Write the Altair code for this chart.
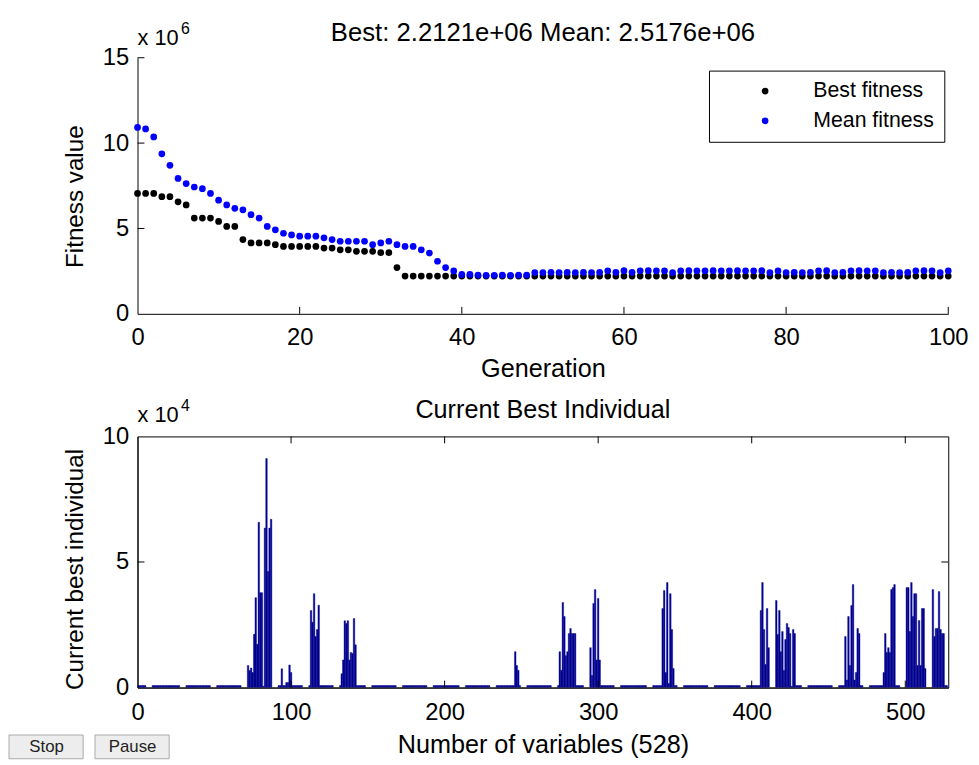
import altair as alt
import pandas as pd

FONT = "Liberation Sans"

# ---------------- top panel: fitness per generation (units of 1e6) ----------------
generations = list(range(0, 101))
best_fitness = [
    7.05, 7.05, 7.05, 6.86, 6.86, 6.56, 6.38, 5.61, 5.61, 5.61,
    5.41, 5.12, 5.12, 4.35, 4.15, 4.15, 4.15, 4.05, 3.95, 3.95,
    3.95, 3.95, 3.95, 3.85, 3.85, 3.75, 3.75, 3.66, 3.66, 3.66,
    3.58, 3.58, 2.71, 2.2121, 2.2121, 2.2121, 2.2121, 2.2121, 2.2121, 2.2121,
    2.2121, 2.2121, 2.2121, 2.2121, 2.2121, 2.2121, 2.2121, 2.2121, 2.2121, 2.2121,
    2.2121, 2.2121, 2.2121, 2.2121, 2.2121, 2.2121, 2.2121, 2.2121, 2.2121, 2.2121,
    2.2121, 2.2121, 2.2121, 2.2121, 2.2121, 2.2121, 2.2121, 2.2121, 2.2121, 2.2121,
    2.2121, 2.2121, 2.2121, 2.2121, 2.2121, 2.2121, 2.2121, 2.2121, 2.2121, 2.2121,
    2.2121, 2.2121, 2.2121, 2.2121, 2.2121, 2.2121, 2.2121, 2.2121, 2.2121, 2.2121,
    2.2121, 2.2121, 2.2121, 2.2121, 2.2121, 2.2121, 2.2121, 2.2121, 2.2121, 2.2121,
    2.2121,
]
mean_fitness = [
    10.92, 10.83, 10.36, 9.37, 8.70, 7.93, 7.63, 7.43, 7.33, 7.05,
    6.66, 6.38, 6.18, 6.09, 5.81, 5.61, 5.12, 4.92, 4.72, 4.62,
    4.55, 4.55, 4.55, 4.45, 4.35, 4.25, 4.25, 4.25, 4.25, 4.05,
    4.15, 4.25, 4.05, 3.95, 3.95, 3.75, 3.56, 3.08, 2.71, 2.51,
    2.31, 2.31, 2.27, 2.26, 2.26, 2.27, 2.26, 2.27, 2.27, 2.42,
    2.42, 2.43, 2.42, 2.43, 2.42, 2.43, 2.42, 2.43, 2.52, 2.43,
    2.53, 2.43, 2.52, 2.53, 2.52, 2.52, 2.42, 2.52, 2.53, 2.52,
    2.52, 2.53, 2.52, 2.52, 2.53, 2.52, 2.52, 2.53, 2.42, 2.52,
    2.42, 2.43, 2.42, 2.43, 2.52, 2.53, 2.42, 2.43, 2.52, 2.53,
    2.52, 2.52, 2.42, 2.43, 2.42, 2.43, 2.52, 2.53, 2.52, 2.42,
    2.5176,
]
series_names = ["Best fitness", "Mean fitness"]
series_colors = ["#000000", "#0000ff"]
gen_ticks = [0, 20, 40, 60, 80, 100]
fit_ticks = [0, 5, 10, 15]

# ---------------- bottom panel: current best individual (units of 1e4) ----------------
n_variables = 528
baseline_level = 0.08
gap_starts = [6, 28, 48, 68, 88, 108, 128, 149, 169, 189, 210, 230, 250,
              270, 291, 311, 332, 352, 372, 393, 412, 433, 453, 473, 497, 514]
gap_length = 4
cluster_starts = [72, 94, 97, 113, 133, 246, 275, 295, 342, 406, 416, 461, 486, 501, 518]
cluster_values = [
    [0.88, 0.68, 0.78, 0.6, 2.12, 3.58, 1.72, 6.58, 3.78, 3.78, 0.05, 6.35, 9.12, 4.62, 6.35, 6.7],
    [0.75],
    [0.2, 0.2, 0.9, 0.6],
    [3.07, 2.6, 3.74, 2.03, 2.31, 3.28],
    [0.55, 1.1, 2.66, 2.55, 2.66, 1.1, 1.4, 1.36, 2.75, 1.7],
    [1.43, 0.88, 0.69],
    [1.43, 0.69, 3.39, 2.83, 1.27, 1.43, 2.15, 2.35, 2.15, 2.15, 2.15],
    [1.59, 0.48, 3.35, 3.9, 1.1, 3.55, 1.1],
    [3.15, 3.86, 0.6, 4.18, 0.16, 3.74, 2.31, 0.76],
    [3.07, 4.18, 2.31, 0.92, 3.15, 1.59],
    [3.47, 2.11, 3.07, 1.43, 2.23, 0.68, 1.91, 2.55, 2.39, 2.15, 0.05, 2.31, 2.15],
    [2.03, 0.3, 2.83, 0.88, 3.27, 4.1, 0.3, 0.6, 2.35, 2.15],
    [0.6, 2.15, 1.4, 1.59, 1.4, 3.9, 3.98, 4.1],
    [3.98, 3.98, 2.23, 4.18, 2.83, 3.74, 3.74, 0.88, 2.67, 0.88, 3.15, 3.15, 0.76],
    [3.9, 2.03, 2.35, 2.35, 3.82, 2.31, 2.15, 2.15],
]
var_ticks = [0, 100, 200, 300, 400, 500]
ind_ticks = [0, 5, 10]

# ---------------- build tables ----------------
fit_rows = []
for order, (name, vals) in enumerate(zip(series_names, [best_fitness, mean_fitness])):
    for g, v in zip(generations, vals):
        fit_rows.append({"generation": g, "fitness": v, "series": name, "k": order})
df_fit = pd.DataFrame(fit_rows)

individual = [baseline_level] * n_variables
for g in gap_starts:
    for k in range(g, min(g + gap_length, n_variables)):
        individual[k] = 0.0
for s, vals in zip(cluster_starts, cluster_values):
    for j, v in enumerate(vals):
        individual[s + j] = v
df_ind = pd.DataFrame({"variable": list(range(n_variables)), "value": individual})

title_text = f"Best: {best_fitness[-1] * 1e6:.4e} Mean: {mean_fitness[-1] * 1e6:.4e}"

TW, TH = 820, 259
BW, BH = 820, 254
TICKF = 24
TITLEF = 25.5
YTITLEF = 24.5
TICK_LEN = 7
BAR_COLOR = "#00008f"

one = alt.Data(values=[{}])


def axis_x(title, ty, vals, lp):
    return alt.Axis(title=title, values=vals, labelFontSize=TICKF, titleFontSize=TITLEF,
                    titleFontWeight="normal", labelPadding=lp, ticks=False, tickSize=0,
                    grid=False, domainColor="black", labelColor="black", titleColor="black",
                    titleY=ty, titleBaseline="middle", labelFont=FONT, titleFont=FONT,
                    labelFlush=False)


def axis_y(title, tx, ty, vals):
    return alt.Axis(title=title, values=vals, labelFontSize=TICKF, titleFontSize=YTITLEF,
                    titleFontWeight="normal", labelPadding=9, ticks=False, tickSize=0,
                    grid=False, domainColor="black", labelColor="black", titleColor="black",
                    titleX=tx, titleY=ty, titleBaseline="middle", labelFont=FONT, titleFont=FONT,
                    labelFlush=False)


# ---------------- top chart ----------------
points = alt.Chart(df_fit).mark_circle(size=46, opacity=1).encode(
    x=alt.X("generation:Q", scale=alt.Scale(domain=[0, 100], nice=False),
            axis=axis_x("Generation", 55, gen_ticks, 12)),
    y=alt.Y("fitness:Q", scale=alt.Scale(domain=[0, 15], nice=False),
            axis=axis_y("Fitness value", -63, 140, fit_ticks)),
    color=alt.Color("series:N", scale=alt.Scale(domain=series_names, range=series_colors),
                    legend=alt.Legend(orient="none", legendX=578, legendY=13, title=None,
                                      padding=10, strokeColor="black", fillColor="white",
                                      labelFontSize=21.5, labelFont=FONT, labelColor="black",
                                      symbolSize=46, symbolType="circle", symbolOpacity=1,
                                      symbolStrokeWidth=0, symbolOffset=36, labelOffset=38,
                                      rowPadding=7, cornerRadius=0, labelLimit=300)),
    order=alt.Order("k:Q"),
)

top_xt = alt.Chart(alt.Data(values=[{"generation": v} for v in gen_ticks[1:]])).mark_rule(
    color="black").encode(x=alt.X("generation:Q"), y=alt.value(TH), y2=alt.value(TH - TICK_LEN))
top_yt = alt.Chart(alt.Data(values=[{"fitness": v} for v in fit_ticks[1:]])).mark_rule(
    color="black").encode(y=alt.Y("fitness:Q"), x=alt.value(0), x2=alt.value(TICK_LEN))

top_title = alt.Chart(one).mark_text(text=title_text, fontSize=26, font=FONT, color="black",
                                     align="center", baseline="middle").encode(
    x=alt.value(TW / 2), y=alt.value(-25))
top_exp = alt.Chart(one).mark_text(text="x 10", fontSize=22, font=FONT, color="black",
                                   align="left", baseline="middle").encode(
    x=alt.value(0), y=alt.value(-20))
top_exp2 = alt.Chart(one).mark_text(text="6", fontSize=16, font=FONT, color="black",
                                    align="left", baseline="middle").encode(
    x=alt.value(44), y=alt.value(-29))

top = alt.layer(points, top_xt, top_yt, top_title, top_exp, top_exp2).properties(
    width=TW, height=TH, view=alt.ViewBackground(stroke="transparent"))

# ---------------- bottom chart ----------------
bars = alt.Chart(df_ind).transform_filter("datum.value > 0").transform_calculate(
    x0="datum.variable - 0.5", x1="datum.variable + 0.5"
).mark_bar(color=BAR_COLOR, stroke=BAR_COLOR, strokeWidth=0.4, clip=True).encode(
    x=alt.X("x0:Q", scale=alt.Scale(domain=[0, n_variables], nice=False),
            axis=axis_x("Number of variables (528)", 58, var_ticks, 13)),
    x2="x1:Q",
    y=alt.Y("value:Q", scale=alt.Scale(domain=[0, 10], nice=False),
            axis=axis_y("Current best individual", -63, 134, ind_ticks)),
    y2=alt.datum(0),
)

xt_data = alt.Data(values=[{"x0": v} for v in var_ticks[1:]])
yt_data = alt.Data(values=[{"value": v} for v in ind_ticks[1:-1]])
bot_xt1 = alt.Chart(xt_data).mark_rule(color="black").encode(
    x=alt.X("x0:Q"), y=alt.value(BH), y2=alt.value(BH - TICK_LEN))
bot_xt2 = alt.Chart(xt_data).mark_rule(color="black").encode(
    x=alt.X("x0:Q"), y=alt.value(0), y2=alt.value(TICK_LEN))
bot_yt1 = alt.Chart(yt_data).mark_rule(color="black").encode(
    y=alt.Y("value:Q"), x=alt.value(0), x2=alt.value(TICK_LEN))
bot_yt2 = alt.Chart(yt_data).mark_rule(color="black").encode(
    y=alt.Y("value:Q"), x=alt.value(BW), x2=alt.value(BW - TICK_LEN))

bot_title = alt.Chart(one).mark_text(text="Current Best Individual", fontSize=TITLEF, font=FONT,
                                     color="black", align="center", baseline="middle").encode(
    x=alt.value(BW / 2), y=alt.value(-27))
bot_exp = alt.Chart(one).mark_text(text="x 10", fontSize=22, font=FONT, color="black",
                                   align="left", baseline="middle").encode(
    x=alt.value(0), y=alt.value(-22))
bot_exp2 = alt.Chart(one).mark_text(text="4", fontSize=16, font=FONT, color="black",
                                    align="left", baseline="middle").encode(
    x=alt.value(44), y=alt.value(-31))

stop_btn = alt.Chart(one).mark_rect(fill="#ededed", stroke="#a9a9a9", strokeWidth=1).encode(
    x=alt.value(-130), x2=alt.value(-55), y=alt.value(302), y2=alt.value(326))
stop_txt = alt.Chart(one).mark_text(text="Stop", fontSize=17, font=FONT, color="#222222",
                                    align="center", baseline="middle").encode(
    x=alt.value(-92), y=alt.value(314))
pause_btn = alt.Chart(one).mark_rect(fill="#ededed", stroke="#a9a9a9", strokeWidth=1).encode(
    x=alt.value(-43), x2=alt.value(32), y=alt.value(302), y2=alt.value(326))
pause_txt = alt.Chart(one).mark_text(text="Pause", fontSize=17, font=FONT, color="#222222",
                                     align="center", baseline="middle").encode(
    x=alt.value(-5), y=alt.value(314))

bottom = alt.layer(bars, bot_xt1, bot_xt2, bot_yt1, bot_yt2, bot_title, bot_exp, bot_exp2,
                   stop_btn, stop_txt, pause_btn, pause_txt).properties(
    width=BW, height=BH, view=alt.ViewBackground(stroke="black", strokeWidth=1))

chart = alt.vconcat(top, bottom, spacing=15).properties(
    padding={"left": 0, "top": 7, "right": 2, "bottom": 0},
    background="white",
).configure(font=FONT)

chart.save("out.html", embed_options={"renderer": "svg", "actions": False})
